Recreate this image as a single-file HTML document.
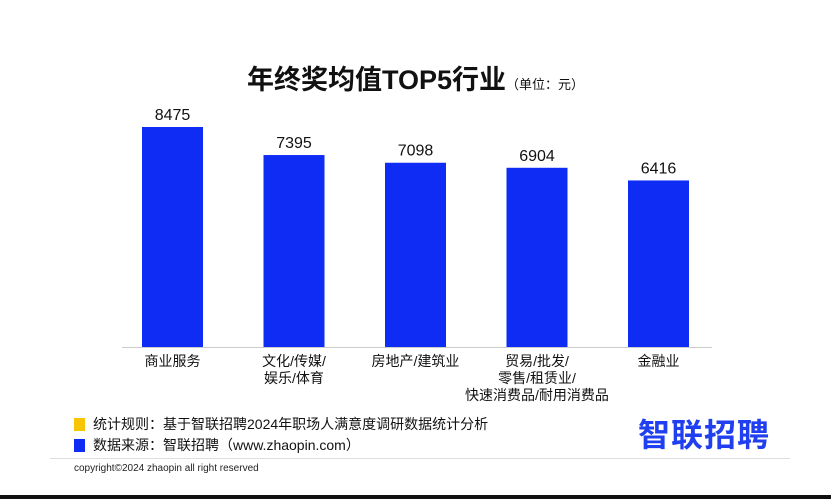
<!DOCTYPE html>
<html><head><meta charset="utf-8"><style>
body{margin:0;width:831px;height:499px;background:#fff;overflow:hidden;position:relative;font-family:"Liberation Sans","Noto Sans CJK SC",sans-serif;}
.abs{position:absolute;}
</style></head><body>
<div class="abs" style="left:0;width:831px;top:58px;text-align:center;font-size:27px;font-weight:bold;color:#111;">年终奖均值TOP5行业<span style="font-size:13px;font-weight:normal;">（单位：元）</span></div>
<svg class="abs" style="left:0;top:0" width="831" height="499" id="chart"></svg>
<div class="abs" style="left:74px;top:414px;font-size:14px;color:#111;"><span style="display:inline-block;width:11px;height:13px;background:#f7c600;vertical-align:-2px;margin-right:8px;"></span>统计规则：基于智联招聘2024年职场人满意度调研数据统计分析</div>
<div class="abs" style="left:74px;top:435px;font-size:14px;color:#111;"><span style="display:inline-block;width:11px;height:13px;background:#0f2cf5;vertical-align:-2px;margin-right:8px;"></span>数据来源：智联招聘（www.zhaopin.com）</div>
<div class="abs" style="left:638px;top:410px;font-size:32px;font-weight:bold;color:#1f3ff0;letter-spacing:1px;">智联招聘</div>
<div class="abs" style="left:50px;top:458px;width:740px;height:1px;background:#ddd;"></div>
<div class="abs" style="left:74px;top:463px;font-size:10px;color:#222;">copyright©2024 zhaopin all right reserved</div>
<div class="abs" style="left:0;top:495px;width:831px;height:4px;background:#111;"></div>
<script>
const categories=[["商业服务"],["文化/传媒/","娱乐/体育"],["房地产/建筑业"],["贸易/批发/","零售/租赁业/","快速消费品/耐用消费品"],["金融业"]];
const values=[8475,7395,7098,6904,6416];
const svg=document.getElementById('chart');const NS='http://www.w3.org/2000/svg';
const base=347,scale=220/8475,x0=172.5,step=121.5,bw=61;
const y=v=>base-v*scale;const x=i=>x0+i*step;
const ax=document.createElementNS(NS,'line');


ax.setAttribute('x1',122);ax.setAttribute('x2',712);ax.setAttribute('y1',base+0.5);ax.setAttribute('y2',base+0.5);ax.setAttribute('stroke','#ccc');svg.appendChild(ax);
values.forEach((v,i)=>{
 const r=document.createElementNS(NS,'rect');
 
 
 r.setAttribute('x',x(i)-bw/2);r.setAttribute('y',y(v));r.setAttribute('width',bw);r.setAttribute('height',base-y(v));r.setAttribute('fill','#0f2cf5');svg.appendChild(r);
 const t=document.createElementNS(NS,'text');
 
 
 t.setAttribute('x',x(i));t.setAttribute('y',y(v)-7);t.setAttribute('text-anchor','middle');t.setAttribute('font-size','16');t.setAttribute('fill','#111');t.textContent=v;svg.appendChild(t);
 categories[i].forEach((line,j)=>{
  const c=document.createElementNS(NS,'text');
  
  
  c.setAttribute('x',x(i));c.setAttribute('y',366+j*17);c.setAttribute('text-anchor','middle');c.setAttribute('font-size','14');c.setAttribute('fill','#111');c.textContent=line;svg.appendChild(c);
 });
});
</script>
</body></html>
